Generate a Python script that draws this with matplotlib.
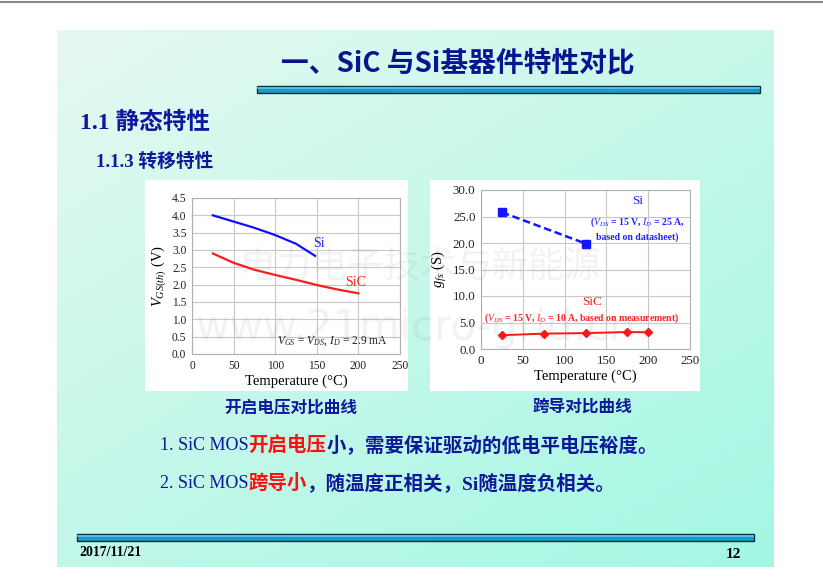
import matplotlib.pyplot as plt
import matplotlib.patches as patches
import numpy as np

plt.rcParams['mathtext.fontset'] = 'custom'
plt.rcParams['mathtext.rm'] = 'Liberation Serif'
plt.rcParams['mathtext.it'] = 'Liberation Serif:italic'

SERIF = ['Liberation Serif', 'Noto Sans CJK SC']
CJK = ['Noto Sans CJK SC', 'Liberation Serif']
NAVY = '#10189a'

# Threshold voltage vs temperature
vth_si_temp = [25, 50, 75, 100, 125, 148]
vth_si = [4.0, 3.82, 3.64, 3.43, 3.18, 2.83]
vth_sic_temp = [25, 50, 75, 100, 125, 150, 175, 200]
vth_sic = [2.9, 2.63, 2.43, 2.28, 2.14, 1.99, 1.86, 1.75]

# Transconductance vs temperature
gfs_si_temp = [25, 125]
gfs_si = [25.8, 19.9]
gfs_sic_temp = [25, 75, 125, 175, 200]
gfs_sic = [2.6, 2.9, 3.0, 3.2, 3.15]

W, H = 823, 585
fig = plt.figure(figsize=(W / 100, H / 100), dpi=100)


def rect(x0, y0, x1, y1):
    # pixel box -> figure fraction [left, bottom, width, height]
    return [x0 / W, 1 - y1 / H, (x1 - x0) / W, (y1 - y0) / H]


# background layer in pixel coordinates
bg = fig.add_axes([0, 0, 1, 1])
bg.set_xlim(0, W)
bg.set_ylim(H, 0)
bg.axis('off')

gx = np.linspace(0, 1, 200)
gy = np.linspace(0, 1, 200)
gxx, gyy = np.meshgrid(gx, gy)
t = np.clip(0.45 * gxx + 0.55 * gyy, 0, 1)
c0 = np.array([0.90, 0.975, 0.945])
c1 = np.array([0.64, 0.97, 0.89])
grad = c0[None, None, :] * (1 - t[..., None]) + c1[None, None, :] * t[..., None]
bg.imshow(grad, extent=[57, 774, 567, 30], aspect='auto', zorder=0)
bg.plot([0, W], [2, 2], color='#8a8a8a', lw=1.5, zorder=1)

# title bars
for (x0, y0, x1, y1) in [(257, 86, 760, 93), (77, 534, 754, 541)]:
    bg.add_patch(patches.Rectangle((x0, y0), x1 - x0, y1 - y0, facecolor='#1a9cc6',
                                   edgecolor='#0b2f3c', lw=1.0, zorder=2))
    bg.plot([x0 + 1, x1 - 1], [y0 + 2.2, y0 + 2.2], color='#5cc8e8', lw=1.2, zorder=3)

# chart boxes
bg.add_patch(patches.Rectangle((145, 180), 263, 211, facecolor='white', edgecolor='none', zorder=2))
bg.add_patch(patches.Rectangle((430, 180), 270, 211, facecolor='white', edgecolor='none', zorder=2))

# slide texts
bg.text(458, 63, '一、SiC 与Si基器件特性对比', ha='center', va='center', fontsize=20,
        fontweight='bold', color='#0a1490', family=CJK, zorder=4)
bg.text(80, 123, '1.1 静态特性', ha='left', va='center', fontsize=17,
        fontweight='bold', color=NAVY, family=SERIF, zorder=4)
bg.text(96, 162, '1.1.3 转移特性', ha='left', va='center', fontsize=13.5,
        fontweight='bold', color=NAVY, family=SERIF, zorder=4)
bg.text(291, 407, '开启电压对比曲线', ha='center', va='center', fontsize=12,
        fontweight='bold', color=NAVY, family=CJK, zorder=4)
bg.text(582, 407, '跨导对比曲线', ha='center', va='center', fontsize=12,
        fontweight='bold', color=NAVY, family=CJK, zorder=4)

bullets = [
    [('1. SiC MOS', NAVY), ('开启电压', '#ff1010'), ('小，需要保证驱动的低电平电压裕度。', NAVY)],
    [('2. SiC MOS', NAVY), ('跨导小', '#ff1010'), ('，随温度正相关，Si随温度负相关。', NAVY)],
]
for row, y in zip(bullets, [445, 483]):
    prev = None
    for s, col in row:
        if prev is None:
            prev = bg.text(160, y, s, ha='left', va='center', fontsize=13, color=col,
                           family=SERIF, zorder=4)
        else:
            prev = bg.annotate(s, xy=(1, 0.5), xycoords=prev, ha='left', va='center',
                               fontsize=14, color=col, family=SERIF,
                               fontweight='bold', zorder=4)

bg.text(79, 552, '2017/11/21', ha='left', va='center', fontsize=10, fontweight='bold',
        color='black', family=SERIF, zorder=4)
bg.text(741, 554, '12', ha='right', va='center', fontsize=11, fontweight='bold',
        color='black', family=SERIF, zorder=4)


def style(ax, xmax, ymax, ystep, fmt, tsize):
    ax.set_xlim(0, xmax)
    ax.set_ylim(0, ymax)
    ax.set_xticks(np.arange(0, xmax + 1, 50))
    ax.set_yticks(np.arange(0, ymax + 0.001, ystep))
    ax.set_yticklabels([fmt % v for v in np.arange(0, ymax + 0.001, ystep)])
    ax.grid(True, color='#c8c8c8', lw=0.8)
    ax.set_axisbelow(True)
    for sp in ax.spines.values():
        sp.set_color('#b0b0b0')
        sp.set_linewidth(0.8)
    ax.tick_params(length=0, labelsize=tsize, pad=4, colors='#222222')
    for lab in ax.get_xticklabels() + ax.get_yticklabels():
        lab.set_family('Liberation Serif')
    ax.set_xlabel('Temperature (°C)', fontsize=10.5, family='Liberation Serif', labelpad=2)
    ax.set_facecolor('white')


# chart 1: threshold voltage
ax1 = fig.add_axes(rect(192, 198, 400, 354))
ax1.plot(vth_si_temp, vth_si, color='#1010ff', lw=1.6)
ax1.plot(vth_sic_temp, vth_sic, color='#ff1a1a', lw=1.6)
style(ax1, 250, 4.5, 0.5, '%.1f', 8.3)
ax1.set_ylabel('$V_{GS(th)}$ (V)', fontsize=10.5, family='Liberation Serif', labelpad=3)
ax1.text(152, 3.1, 'Si', color='#2020ff', fontsize=10, family='Liberation Serif', ha='center')
ax1.text(196, 1.95, 'SiC', color='#ff2020', fontsize=10, family='Liberation Serif', ha='center')
ax1.text(235, 0.3, '$V_{GS}$ = $V_{DS}$, $I_D$ = 2.9 mA', fontsize=8.3, ha='right',
         family='Liberation Serif', color='#222222')

# chart 2: transconductance
ax2 = fig.add_axes(rect(481, 190, 690, 349))
ax2.plot(gfs_si_temp, gfs_si, color='#1414ff', lw=1.8, ls=(0, (3, 1.5)),
         marker='s', ms=6)
ax2.plot(gfs_sic_temp, gfs_sic, color='#ff1414', lw=1.4, marker='D', ms=4.5)
style(ax2, 250, 30, 5, '%.1f', 9.3)
ax2.set_ylabel('$g_{fs}$ (S)', fontsize=10.5, family='Liberation Serif', labelpad=3)
ax2.text(187, 27.3, 'Si', color='#2020ff', fontsize=9.5, family='Liberation Serif', ha='center')
ax2.text(187, 23.4, '($V_{DS}$ = 15 V, $I_D$ = 25 A,', color='#2020ff', fontsize=7,
         family='Liberation Serif', ha='center', fontweight='bold')
ax2.text(187, 20.6, 'based on datasheet)', color='#2020ff', fontsize=7,
         family='Liberation Serif', ha='center', fontweight='bold')
ax2.text(133, 8.3, 'SiC', color='#ff2020', fontsize=9.5, family='Liberation Serif', ha='center')
ax2.text(120, 5.4, '($V_{DS}$ = 15 V, $I_D$ = 10 A, based on measurement)', color='#ff2020',
         fontsize=7, family='Liberation Serif', ha='center', fontweight='bold')

# faint watermark on top
wm = fig.add_axes([0, 0, 1, 1])
wm.set_xlim(0, W)
wm.set_ylim(H, 0)
wm.axis('off')
wm.patch.set_alpha(0)
wm.text(420, 268, '电力电子技术与新能源', ha='center', va='center', fontsize=26,
        color='#888888', alpha=0.1, family=CJK)
wm.text(415, 328, 'www.21micro-grid.cn', ha='center', va='center', fontsize=30,
        color='#888888', alpha=0.1, family='DejaVu Sans')

fig.savefig('out.png', dpi=100)
